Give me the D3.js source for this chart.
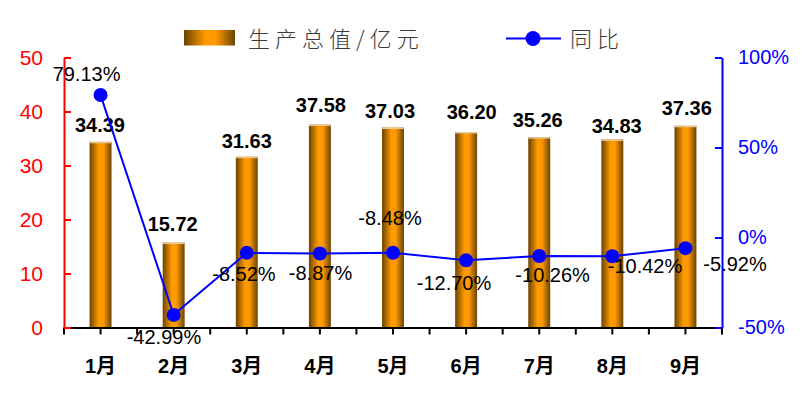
<!DOCTYPE html>
<html>
<head>
<meta charset="utf-8">
<script src="https://cdn.jsdelivr.net/npm/d3@7"></script>
<style>
  body { margin: 0; background: #fff; }
  svg { display: block; }
</style>
</head>
<body>
<div id="chart"></div>
<script>
const months = ['1月', '2月', '3月', '4月', '5月', '6月', '7月', '8月', '9月'];
const output = [34.39, 15.72, 31.63, 37.58, 37.03, 36.20, 35.26, 34.83, 37.36];
const growth = [79.13, -42.99, -8.52, -8.87, -8.48, -12.70, -10.26, -10.42, -5.92];
const leftTicks = [0, 10, 20, 30, 40, 50];
const rightTicks = [-50, 0, 50, 100];

// label nudges (the labels were moved by hand)
const barLabelNudge = [[-0.6, -10], [-1, -12], [0, -9], [1, -12.6], [-3, -9.5], [5.6, -13], [-1.5, -10.4], [4.4, -6.4], [1.3, -11]];
const pctLabelNudge = [[-14, -14.3], [-9.7, 29], [-2.8, 27.7], [0.6, 27], [-3, -28], [-12.1, 30], [13.4, 26.5], [32.7, 16.8], [49.6, 23.3]];

const width = 804, height = 393;
const margin = {top: 57.5, right: 82, bottom: 65.5, left: 64};
const latin = '"Liberation Sans", Arial, sans-serif';
const cjk = '"Liberation Sans", Arial, "Noto Sans CJK SC", sans-serif';

const x = d3.scaleBand()
  .domain(months)
  .range([margin.left, width - margin.right]);

const yL = d3.scaleLinear()
  .domain([0, 50])
  .range([height - margin.bottom, margin.top]);

const yR = d3.scaleLinear()
  .domain([-50, 100])
  .range([height - margin.bottom, margin.top]);

const svg = d3.select('#chart').append('svg')
  .attr('width', width)
  .attr('height', height);

const grad = svg.append('defs').append('linearGradient')
  .attr('id', 'barGrad')
  .attr('x1', '0%').attr('x2', '100%').attr('y1', '0%').attr('y2', '0%');
grad.append('stop').attr('offset', '0%').attr('stop-color', '#6b4300');
grad.append('stop').attr('offset', '42%').attr('stop-color', '#ff9a00');
grad.append('stop').attr('offset', '62%').attr('stop-color', '#ff9a00');
grad.append('stop').attr('offset', '100%').attr('stop-color', '#6b4300');

// bars
const barW = x.bandwidth() * 0.3;
const bars = svg.append('g').selectAll('g').data(output).enter().append('g');

bars.append('rect')
    .attr('fill', 'url(#barGrad)')
    .attr('x', (d, i) => x(months[i]) + (x.bandwidth() - barW) / 2)
    .attr('y', d => yL(d))
    .attr('height', d => yL(0) - yL(d))
    .attr('width', barW);

bars.append('rect')
    .attr('fill', '#e6c79a')
    .attr('x', (d, i) => x(months[i]) + (x.bandwidth() - barW) / 2)
    .attr('y', d => yL(d))
    .attr('height', 1.5)
    .attr('width', barW);

bars.append('text')
    .attr('x', (d, i) => x(months[i]) + x.bandwidth() / 2 + barLabelNudge[i][0])
    .attr('y', (d, i) => yL(d) + barLabelNudge[i][1])
    .attr('text-anchor', 'middle')
    .style('font-family', latin)
    .style('font-size', '20px')
    .style('font-weight', 'bold')
    .attr('fill', '#000')
    .text(d => d.toFixed(2));

// x axis
const xAxis = svg.append('g')
  .attr('transform', `translate(0,${yL(0)})`)
  .call(d3.axisBottom(x).tickSize(7).tickSizeOuter(0));
xAxis.select('.domain').attr('stroke', '#000').attr('stroke-width', 2);
xAxis.selectAll('.tick line').attr('stroke', '#000').attr('stroke-width', 2);
xAxis.selectAll('.tick text')
  .attr('y', 45)
  .attr('dy', 0)
  .attr('fill', '#000')
  .style('font-family', cjk)
  .style('font-size', '20px')
  .style('font-weight', 'bold');
// extra ticks at the category boundaries
xAxis.selectAll('.edge')
  .data(months.map(m => x(m)).concat([x.range()[1]]))
  .enter().append('line')
    .attr('x1', d => d).attr('x2', d => d)
    .attr('y1', 0).attr('y2', 7)
    .attr('stroke', '#000').attr('stroke-width', 2);

// left axis
const leftAxis = svg.append('g')
  .attr('transform', `translate(${margin.left},0)`)
  .call(d3.axisLeft(yL).tickValues(leftTicks).tickSize(-7).tickSizeOuter(0).tickPadding(21));
leftAxis.select('.domain').attr('stroke', '#ff0000').attr('stroke-width', 2);
leftAxis.selectAll('.tick line').attr('stroke', '#ff0000').attr('stroke-width', 2);
leftAxis.selectAll('.tick text')
  .attr('fill', '#ff0000')
  .style('font-family', latin)
  .style('font-size', '21px');

// right axis
const rightAxis = svg.append('g')
  .attr('transform', `translate(${width - margin.right},0)`)
  .call(d3.axisRight(yR).tickValues(rightTicks).tickSize(-7).tickSizeOuter(0).tickPadding(16)
    .tickFormat(d => d + '%'));
rightAxis.select('.domain').attr('stroke', '#0000ff').attr('stroke-width', 2);
rightAxis.selectAll('.tick line').attr('stroke', '#0000ff').attr('stroke-width', 2);
rightAxis.selectAll('.tick text')
  .attr('fill', '#0000ff')
  .style('font-family', latin)
  .style('font-size', '20px');

// growth line
const line = d3.line()
  .x((d, i) => x(months[i]) + x.bandwidth() / 2)
  .y(d => yR(d));

svg.append('path')
  .datum(growth)
  .attr('fill', 'none')
  .attr('stroke', '#0000ff')
  .attr('stroke-width', 2)
  .attr('d', line);

svg.append('g').selectAll('circle').data(growth).enter().append('circle')
    .attr('cx', (d, i) => x(months[i]) + x.bandwidth() / 2)
    .attr('cy', d => yR(d))
    .attr('r', 7)
    .attr('fill', '#0000ff');

svg.append('g').selectAll('text').data(growth).enter().append('text')
    .attr('x', (d, i) => x(months[i]) + x.bandwidth() / 2 + pctLabelNudge[i][0])
    .attr('y', (d, i) => yR(d) + pctLabelNudge[i][1])
    .attr('text-anchor', 'middle')
    .style('font-family', latin)
    .style('font-size', '20px')
    .attr('fill', '#000')
    .text(d => d.toFixed(2) + '%');

// legend
const legend = svg.append('g').style('font-family', '"Noto Sans CJK SC", sans-serif');

legend.append('rect')
    .attr('x', 184).attr('y', 30)
    .attr('width', 51).attr('height', 15.5)
    .attr('fill', 'url(#barGrad)');
legend.append('text')
    .attr('x', 248).attr('y', 46.5)
    .style('font-size', '22px')
    .style('font-weight', 300)
    .style('letter-spacing', '5px')
    .attr('fill', '#3a3a3a')
    .text('生产总值/亿元');

legend.append('line')
    .attr('x1', 506).attr('x2', 561)
    .attr('y1', 38.5).attr('y2', 38.5)
    .attr('stroke', '#0000ff').attr('stroke-width', 2);
legend.append('circle')
    .attr('cx', 533).attr('cy', 38.5).attr('r', 7.5)
    .attr('fill', '#0000ff');
legend.append('text')
    .attr('x', 570).attr('y', 46.5)
    .style('font-size', '22px')
    .style('font-weight', 300)
    .style('letter-spacing', '5px')
    .attr('fill', '#3a3a3a')
    .text('同比');
</script>
</body>
</html>
